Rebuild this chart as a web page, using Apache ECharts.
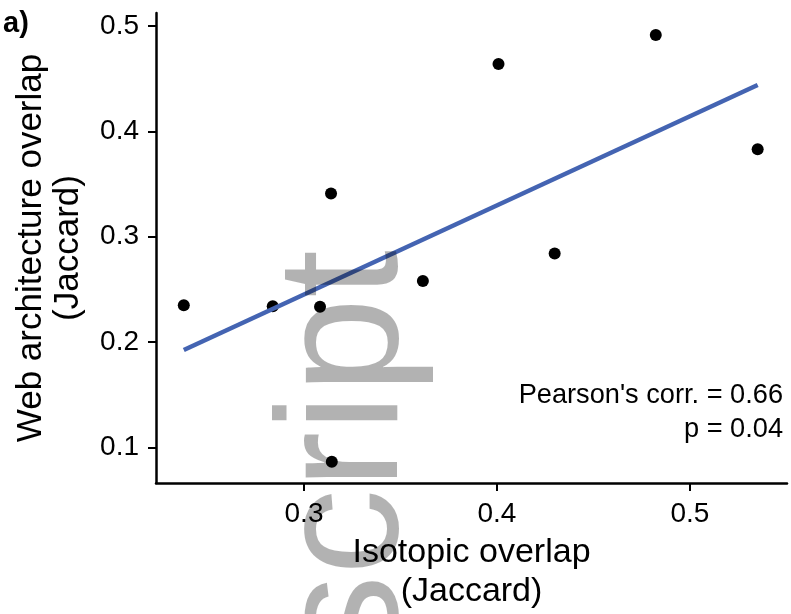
<!DOCTYPE html>
<html>
<head>
<meta charset="utf-8">
<script src="https://cdn.jsdelivr.net/npm/echarts@6/dist/echarts.min.js"></script>
<style>
html,body{margin:0;padding:0;background:#fff;}
#chart{width:791px;height:614px;}
</style>
</head>
<body>
<div id="chart"></div>
<script>
// Data
const isotopicOverlap = [0.2377, 0.2838, 0.3083, 0.3616, 0.3144, 0.3140, 0.4008, 0.4823, 0.5351, 0.4299];
const webOverlap      = [0.2350, 0.2340, 0.2335, 0.2580, 0.0863, 0.3410, 0.4640, 0.4915, 0.3830, 0.2840];
const fitX = [0.2377, 0.5351];
const fitY = [0.1924, 0.4440];
const xTicks = [0.3, 0.4, 0.5];
const yTicks = [0.1, 0.2, 0.3, 0.4, 0.5];
const xTitle = 'Isotopic overlap\n(Jaccard)';
const yTitle = 'Web architecture overlap\n(Jaccard)';
const panelLabel = 'a)';
const statLines = ["Pearson's corr. = 0.66", 'p = 0.04'];
const watermark = 'Manuscript';

const FONT = '"Liberation Sans", Arial, Helvetica, sans-serif';
const chart = echarts.init(document.getElementById('chart'), null, {renderer: 'canvas'});

const points = isotopicOverlap.map((x, i) => [x, webOverlap[i]]);
const fit = fitX.map((x, i) => [x, fitY[i]]);

const axisCommon = {
  type: 'value',
  axisLine: {show: true, lineStyle: {color: '#000', width: 2.5}},
  axisTick: {show: true, length: 8, lineStyle: {color: '#000', width: 2}},
  splitLine: {show: false},
  axisLabel: {color: '#000', fontSize: 28, fontFamily: FONT, margin: 17}
};

const option = {
  animation: false,
  backgroundColor: '#fff',
  grid: {left: 156, right: 4, top: 13, bottom: 131, containLabel: false},
  xAxis: Object.assign({}, axisCommon, {
    min: 0.2233, max: 0.5503,
    axisTick: Object.assign({}, axisCommon.axisTick, {customValues: xTicks}),
    axisLabel: Object.assign({}, axisCommon.axisLabel, {customValues: xTicks, formatter: v => v.toFixed(1)})
  }),
  yAxis: Object.assign({}, axisCommon, {
    min: 0.0662, max: 0.5123,
    axisTick: Object.assign({}, axisCommon.axisTick, {customValues: yTicks}),
    axisLabel: Object.assign({}, axisCommon.axisLabel, {customValues: yTicks, formatter: v => v.toFixed(1)})
  }),
  series: [
    {
      type: 'scatter', data: points, symbol: 'circle', symbolSize: 12,
      itemStyle: {color: '#000', opacity: 1}, z: 2
    },
    {
      type: 'line', data: fit, showSymbol: false, symbol: 'none',
      lineStyle: {color: '#4464B2', width: 4.5, cap: 'butt', opacity: 1}, z: 3
    }
  ],
  graphic: [
    {
      type: 'text', x: 471.5, y: 572, z: 10,
      style: {text: xTitle, font: '34px ' + FONT, fill: '#000', align: 'center', verticalAlign: 'middle', lineHeight: 38.4}
    },
    {
      type: 'text', x: 50, y: 248, rotation: Math.PI / 2, z: 10,
      style: {text: yTitle, font: '35px ' + FONT, fill: '#000', align: 'center', verticalAlign: 'middle', lineHeight: 36.5}
    },
    {
      type: 'text', x: 3, y: 24.3, z: 10,
      style: {text: panelLabel, font: 'bold 29px ' + FONT, fill: '#000', align: 'left', verticalAlign: 'middle'}
    },
    {
      type: 'text', x: 783, y: 395.1, z: 10,
      style: {text: statLines[0], font: '27.2px ' + FONT, fill: '#000', align: 'right', verticalAlign: 'middle'}
    },
    {
      type: 'text', x: 783, y: 429.1, z: 10,
      style: {text: statLines[1], font: '27.2px ' + FONT, fill: '#000', align: 'right', verticalAlign: 'middle'}
    },
    {
      type: 'text', x: 349.7, y: 250, rotation: Math.PI / 2, z: 100,
      style: {text: watermark, font: '172px ' + FONT, fill: 'rgba(0,0,0,0.3)', align: 'right', verticalAlign: 'middle'}
    }
  ]
};
chart.setOption(option);
</script>
</body>
</html>
